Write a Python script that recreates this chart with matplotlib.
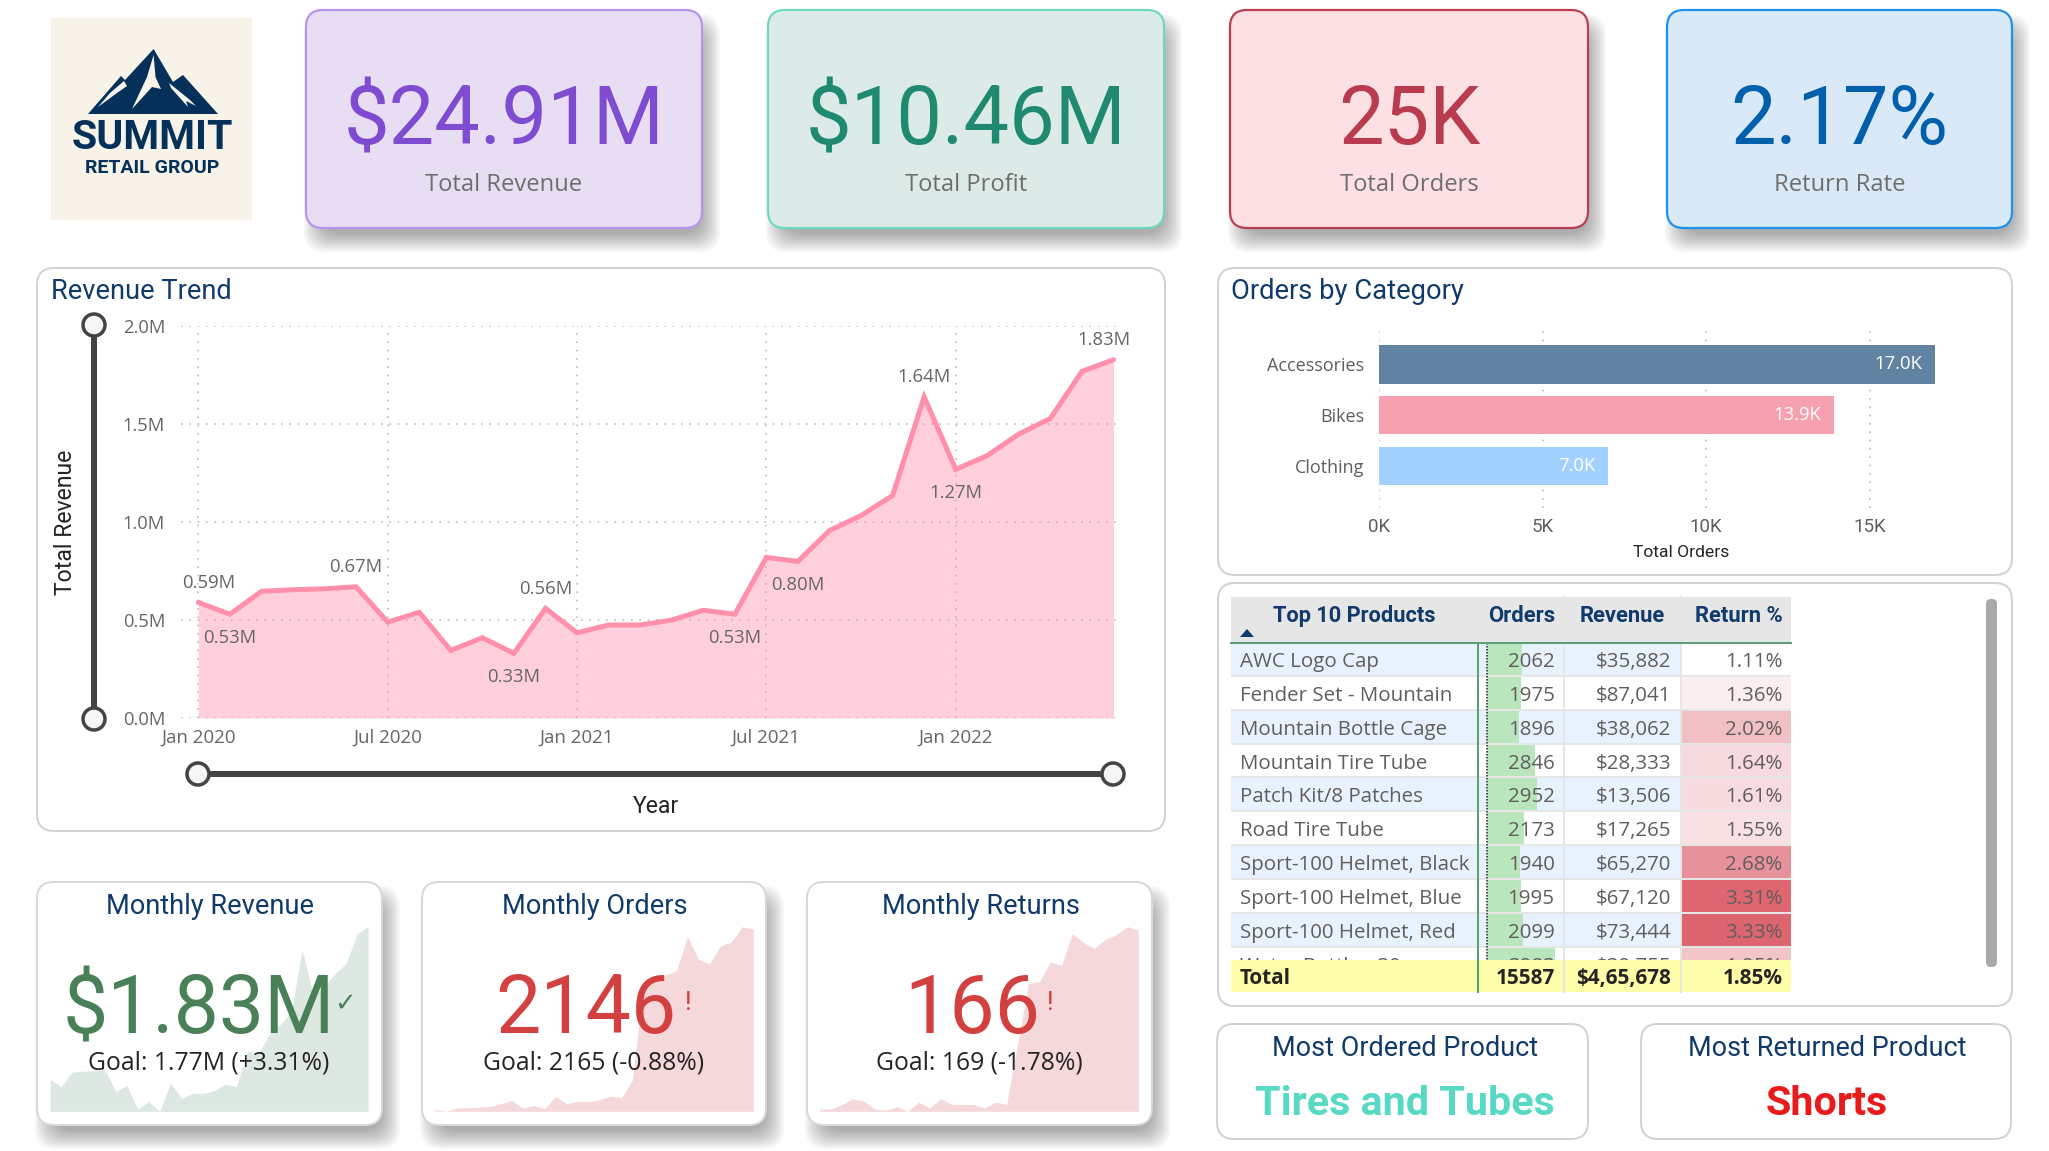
import numpy as np
import matplotlib
matplotlib.use("Agg")
import matplotlib.pyplot as plt
from matplotlib.patches import FancyBboxPatch, Rectangle, Circle, Polygon

W, H = 2049, 1151
SEGOE = "Open Sans"
DIN = "Roboto"
NAVY = "#0f3a6b"
GREY = "#605e5c"

# monthly data Jan 2020 - Jun 2022
revenue = [0.59, 0.53, 0.647, 0.655, 0.66, 0.67, 0.49, 0.54, 0.345, 0.41,
           0.33, 0.56, 0.435, 0.475, 0.475, 0.50, 0.55, 0.53, 0.82, 0.80,
           0.957, 1.034, 1.136, 1.64, 1.27, 1.34, 1.45, 1.53, 1.77, 1.83]
orders_monthly = [169, 151, 184, 191, 195, 202, 235, 267, 187, 213,
                  180, 315, 235, 257, 257, 278, 318, 300, 497, 1545,
                  1563, 1643, 1687, 2062, 1814, 1764, 1960, 2004, 2171, 2146]
returns_monthly = [9, 9, 13, 18, 16, 9, 8, 11, 7, 15,
                   10, 18, 13, 13, 13, 10, 15, 13, 66, 119,
                   121, 138, 135, 163, 155, 150, 158, 162, 169, 166]
trend_ticks = [0, 6, 12, 18, 24]
trend_tick_labels = ["Jan 2020", "Jul 2020", "Jan 2021", "Jul 2021", "Jan 2022"]
trend_y_ticks = [0, 0.5, 1.0, 1.5, 2.0]
trend_label_idx = [0, 1, 5, 10, 11, 17, 19, 23, 24, 29]

categories = ["Accessories", "Bikes", "Clothing"]
category_orders = [17.0, 13.9, 7.0]
category_ticks = [0, 5, 10, 15]

products = ["AWC Logo Cap", "Fender Set - Mountain", "Mountain Bottle Cage",
            "Mountain Tire Tube", "Patch Kit/8 Patches", "Road Tire Tube",
            "Sport-100 Helmet, Black", "Sport-100 Helmet, Blue",
            "Sport-100 Helmet, Red", "Water Bottle - 30 oz."]
product_orders = [2062, 1975, 1896, 2846, 2952, 2173, 1940, 1995, 2099, 3983]
product_revenue = ["$35,882", "$87,041", "$38,062", "$28,333", "$13,506",
                   "$17,265", "$65,270", "$67,120", "$73,444", "$39,755"]
product_returns = [1.11, 1.36, 2.02, 1.64, 1.61, 1.55, 2.68, 3.31, 3.33, 1.95]


def pt(px):
    return px * 0.72


def px_axes(left, top, right, bottom, zorder=2):
    ax = fig.add_axes([left / W, 1 - bottom / H, (right - left) / W, (bottom - top) / H])
    ax.set_zorder(zorder)
    ax.patch.set_alpha(0)
    for s in ax.spines.values():
        s.set_visible(False)
    return ax


def card(x0, y0, x1, y1, face="white", edge="#d2d2d2", lw=2, r=17, shadow=False):
    if shadow:
        # stacked see-through boxes, cheap blur
        for k in range(10):
            g = 10 - 2 * k
            bg.add_patch(FancyBboxPatch((x0 + 8 - g, y0 + 14 - g), x1 - x0 + 2 * g, y1 - y0 + 2 * g,
                                        boxstyle="round,pad=0,rounding_size=%d" % (r + 4),
                                        fc="black", ec="none", alpha=0.036, zorder=1))
    bg.add_patch(FancyBboxPatch((x0, y0), x1 - x0, y1 - y0,
                                boxstyle="round,pad=0,rounding_size=%d" % r,
                                fc=face, ec=edge, lw=pt(lw), zorder=2))


def label(x, y, s, size, color=GREY, family=SEGOE, ha="center", weight="normal", **kw):
    return fg.text(x, y, s, fontsize=size, color=color, family=family, ha=ha, va="center",
                   fontweight=weight, **kw)


fig = plt.figure(figsize=(W / 100, H / 100), dpi=100, facecolor="white")
bg = px_axes(0, 0, W, H, zorder=0)
bg.set_xlim(0, W)
bg.set_ylim(H, 0)
bg.axis("off")
fg = px_axes(0, 0, W, H, zorder=10)
fg.set_xlim(0, W)
fg.set_ylim(H, 0)
fg.axis("off")

# logo
bg.add_patch(Rectangle((51, 18), 201, 202, fc="#f7f3e8", ec="none", zorder=2))
mountain = [(88, 114), (121, 76), (125, 80), (153.6, 49), (173, 82), (183, 75), (218, 114)]
bg.add_patch(Polygon(mountain, fc="#05305a", ec="none", zorder=3))
bg.add_patch(Polygon([(153.6, 55), (155.5, 77), (161, 89), (152, 87), (132, 109), (147, 77)],
                     fc="#f7f3e8", ec="none", zorder=4))
bg.add_patch(Polygon([(124, 81), (127, 86), (117, 93), (98, 107), (110, 93)],
                     fc="#f7f3e8", ec="none", zorder=4))
bg.add_patch(Polygon([(169, 83), (190, 100), (196, 106), (186, 101), (188, 107), (171, 88)],
                     fc="#f7f3e8", ec="none", zorder=4))
label(152, 138, "SUMMIT", pt(41), "#05305a", DIN, weight="bold")
label(152, 168, "RETAIL GROUP", pt(19.5), "#05305a", DIN, weight="bold")

# kpi cards
kpis = [(306, 702, "#e8def4", "#b794f0", "#7f4bd1", "$24.91M", "Total Revenue"),
        (768, 1164, "#dcebe7", "#6fd9c0", "#1f8a70", "$10.46M", "Total Profit"),
        (1230, 1588, "#fce0e3", "#bb3e50", "#b83b4e", "25K", "Total Orders"),
        (1667, 2012, "#d9e9f7", "#1e90f0", "#0060ac", "2.17%", "Return Rate")]
for x0, x1, face, edge, col, value, name in kpis:
    card(x0, 10, x1, 228, face, edge, lw=2.2, shadow=True)
    label((x0 + x1) / 2, 122, value, 58.5, col, DIN)
    label((x0 + x1) / 2, 185, name, pt(23.8), "#6f6e6c")

# panels
card(37, 268, 1165, 831)
card(1218, 268, 2012, 575)
card(1218, 583, 2012, 1006)
card(1217, 1024, 1588, 1139)
card(1641, 1024, 2011, 1139)

# revenue trend
label(51, 291.5, "Revenue Trend", pt(27.2), NAVY, DIN, ha="left")
ax = px_axes(181, 326.4, 1122, 718)
x = np.arange(len(revenue))
ax.fill_between(x, revenue, 0, color="#ff8fab", alpha=0.42, lw=0, zorder=2)
ax.plot(x, revenue, color="#ff8fab", lw=pt(5), solid_joinstyle="miter", solid_capstyle="round",
        clip_on=False, zorder=3)
ax.set_xlim(-0.55, 29.27)
ax.set_ylim(0, 2.0)
ax.set_xticks(trend_ticks, trend_tick_labels)
ax.set_yticks(trend_y_ticks, ["%.1fM" % v for v in trend_y_ticks])
ax.tick_params(length=0, labelcolor="#666666")
ax.tick_params(axis="y", pad=pt(16), labelsize=13.2)
ax.tick_params(axis="x", pad=pt(11), labelsize=13.5)
for t in ax.get_xticklabels() + ax.get_yticklabels():
    t.set_family(SEGOE)
ax.grid(True, color="#bdbdbd", lw=1.2, linestyle=(0, (1, 4)), zorder=0)
ax.set_axisbelow(True)
for i in trend_label_idx:
    above = i in (0, 5, 11, 23, 29)
    dx = {0: 10, 29: -10}.get(i, 0)
    ax.annotate("%.2fM" % revenue[i], (x[i], revenue[i]),
                xytext=(pt(dx), pt(19.5) if above else -pt(23.5)),
                textcoords="offset points", ha="center", va="center", fontsize=13.3,
                color="#666666", family=SEGOE, annotation_clip=False)

# sliders
fg.plot([94, 94], [325, 719], color="#444444", lw=pt(6), solid_capstyle="butt")
fg.plot([198, 1113], [774, 774], color="#444444", lw=pt(6), solid_capstyle="butt")
for cx, cy in [(94, 325), (94, 719), (198, 774), (1113, 774)]:
    fg.add_patch(Circle((cx, cy), 11, fc="#f6f6f6", ec="#444444", lw=pt(3.5), zorder=5))
label(65, 522, "Total Revenue", pt(23), "#252423", DIN, rotation=90)
label(656, 806, "Year", pt(23), "#252423", DIN)

# orders by category
label(1231, 291.5, "Orders by Category", pt(27.4), NAVY, DIN, ha="left")
ax = px_axes(1379.4, 330, 1990, 508)
ax.barh(categories, category_orders, height=0.76, color=["#5f83a1", "#f6a0b0", "#a3d1ff"], zorder=2)
ax.set_xlim(0, (1990 - 1379.4) / 32.68)
ax.set_ylim(2.83, -0.68)
ax.set_xticks(category_ticks, ["%dK" % v for v in category_ticks])
ax.tick_params(length=0, labelcolor=GREY)
ax.tick_params(axis="x", labelsize=13.5, pad=pt(10))
ax.tick_params(axis="y", labelsize=13, pad=pt(15))
for t in ax.get_xticklabels():
    t.set_family(DIN)
for t in ax.get_yticklabels():
    t.set_family(SEGOE)
ax.grid(True, axis="x", color="#bdbdbd", lw=1.2, linestyle=(0, (1, 4)), zorder=0)
ax.set_axisbelow(True)
for i, v in enumerate(category_orders):
    ax.annotate("%.1fK" % v, (v, i), xytext=(-pt(13), 0), textcoords="offset points", ha="right",
                va="center", color="white", fontsize=13.3, family=SEGOE, zorder=3)
label(1681, 552, "Total Orders", pt(17.5), "#252423", DIN)

# table, row heights from the picture
tl, c1, c2, c3, tr = 1231, 1478, 1564, 1681, 1791
head_top, head_bot, row_h, total_top, total_bot = 597, 643, 33.87, 960, 992
bg.add_patch(Rectangle((tl, head_top), tr - tl, head_bot - head_top, fc="#e6e6e6", ec="none", zorder=3))
for name, right in [("Orders", 1555), ("Revenue", 1665), ("Return %", 1783)]:
    label(right, 616, name, pt(22), NAVY, DIN, ha="right", weight="bold")
label(1273, 616, "Top 10 Products", pt(21.8), NAVY, DIN, ha="left", weight="bold")
fg.add_patch(Polygon([(1240, 637), (1254, 637), (1247, 629)], fc=NAVY, ec="none"))
low, high = min(product_returns), max(product_returns)
for i in range(len(products)):
    top = head_bot + row_h * i
    bg.add_patch(Rectangle((tl, top), tr - tl, row_h, fc="#e6e6e6", ec="none", zorder=3))
    bg.add_patch(Rectangle((tl, top), c3 - tl, row_h - 2, fc="#e8f2fe" if i % 2 == 0 else "white",
                           ec="none", zorder=3))
    t = (product_returns[i] - low) / (high - low)
    shade = np.array([1, 1, 1]) * (1 - t) + np.array([0xdd, 0x65, 0x70]) / 255 * t
    bg.add_patch(Rectangle((c3, top), tr - c3, row_h - 2, fc=shade, ec="none", zorder=3))
    bg.add_patch(Rectangle((1487, top), product_orders[i] / 3983 * 67.6, row_h - 2, fc="#b9e6bd",
                           ec="none", zorder=4))
    y = top + row_h / 2 + 2
    bg.text(1239.5, y, products[i], fontsize=pt(20.5), color=GREY, family=SEGOE, va="center", zorder=5)
    bg.text(1554.6, y, str(product_orders[i]), fontsize=pt(20.5), color=GREY, family=SEGOE, va="center", ha="right", zorder=5)
    bg.text(1671, y, product_revenue[i], fontsize=pt(20.5), color=GREY, family=SEGOE, va="center", ha="right", zorder=5)
    bg.text(1782.5, y, "%.2f%%" % product_returns[i], fontsize=pt(20.5), color=GREY, family=SEGOE, va="center", ha="right", zorder=5)
for xl in (c2, c3):
    bg.plot([xl, xl], [head_top, total_bot], color="#e6e6e6", lw=pt(2), zorder=6)
bg.plot([1487, 1487], [head_bot, total_top], color="#222222", lw=pt(1.5), linestyle=(0, (1, 1)), zorder=6)
# total row covers the cut off tenth row
fg.add_patch(Rectangle((tl, total_top), tr - tl, total_bot - total_top, fc="#fdfdaa", ec="none", zorder=1))
for xl in (c2, c3):
    fg.plot([xl, xl], [total_top, total_bot], color="#e6e6e6", lw=pt(2), zorder=2)
fg.add_patch(Rectangle((tl - 1, total_bot), tr - tl + 2, 13, fc="white", ec="none", zorder=1))
for name, xt, ha in [("Total", 1239.5, "left"), ("15587", 1554.6, "right"),
                     ("$4,65,678", 1671, "right"), ("1.85%", 1782.5, "right")]:
    label(xt, 978.5, name, pt(20.8), "#252423", SEGOE, ha=ha, weight="bold", zorder=3)
fg.plot([tl, tr], [head_bot, head_bot], color="#5a9f78", lw=pt(2), zorder=2)
fg.plot([c1, c1], [head_bot, total_bot], color="#5a9f78", lw=pt(2), zorder=2)
bg.add_patch(FancyBboxPatch((1986, 599), 11, 368, boxstyle="round,pad=0,rounding_size=5",
                            fc="#a9a9a9", ec="none", zorder=3))

# monthly cards with sparklines behind the numbers
sparks = [(37, 382, 50, 368, revenue, "#dce8e1", "#4a8058", "Monthly Revenue", "$1.83M", 199,
           "Goal: 1.77M (+3.31%)", 208.6),
          (422, 766, 435, 753.3, orders_monthly, "#f5d8d9", "#d34040", "Monthly Orders", "2146", 586,
           "Goal: 2165 (-0.88%)", 594),
          (807, 1152, 820, 1138.3, returns_monthly, "#f5d8d9", "#d34040", "Monthly Returns", "166", 972,
           "Goal: 169 (-1.78%)", 979)]
for x0, x1, sl, sr, values, fill, col, title, value, vx, goal, gx in sparks:
    card(x0, 882, x1, 1125, "white", "#d8d8d8", lw=2, shadow=True)
    ax = px_axes(sl, 926.7, sr, 1111.3)
    ax.fill_between(np.arange(len(values)), values, min(values), color=fill, lw=0)
    ax.set_xlim(0, len(values) - 1)
    ax.set_ylim(min(values), max(values))
    ax.set_xticks([])
    ax.set_yticks([])
    label((x0 + x1) / 2 + 1, 906.5, title, pt(27.2), NAVY, DIN)
    label(vx, 1011, value, 58, col, DIN)
    label(gx, 1063.5, goal, pt(24.7), "#252423")
label(345, 1004, "\u2713", pt(26), "#4a8058", "DejaVu Sans")
label(688, 1003, "!", pt(26), "#d34040", DIN)
label(1050, 1003, "!", pt(26), "#d34040", DIN)

# bottom right
label(1404.6, 1049, "Most Ordered Product", pt(27), NAVY, DIN)
label(1827, 1049, "Most Returned Product", pt(27), NAVY, DIN)
label(1404.6, 1104, "Tires and Tubes", pt(41.3), "#58d9c4", DIN, weight="bold")
label(1827, 1104, "Shorts", pt(41.3), "#e81a1a", DIN, weight="bold")

fig.savefig("out.png", dpi=100, facecolor="white")
